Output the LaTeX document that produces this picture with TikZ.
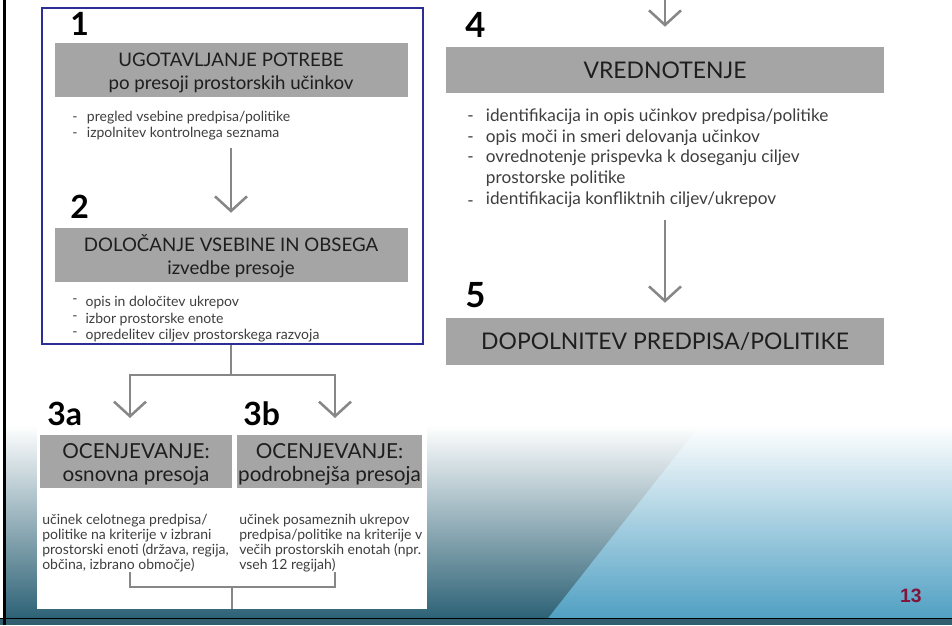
\documentclass[tikz,border=0pt]{standalone}
\usepackage{fontspec}
\setmainfont{Lato}
\newfontfamily\pagefont{Liberation Sans}
\usetikzlibrary{arrows.meta,calc}
\definecolor{boxgray}{RGB}{165,165,165}
\definecolor{txt}{RGB}{30,30,30}
\definecolor{bultxt}{RGB}{62,62,62}
\definecolor{arrgray}{RGB}{135,135,135}
\definecolor{framblue}{RGB}{45,45,150}
\definecolor{tealdark}{RGB}{45,98,118}
\definecolor{teallight}{RGB}{80,160,195}
\definecolor{tealbottom}{RGB}{50,95,112}
\definecolor{pagenum}{RGB}{130,20,60}
\newcommand{\topstrut}{\rule{0pt}{15pt}}
\begin{document}
\begin{tikzpicture}[x=0.75pt,y=-0.75pt,
  graybox/.style={fill=boxgray,inner sep=0pt,align=center,text=txt},
  lefttitle/.style={font=\fontsize{14}{17.25}\selectfont},
  smalltitle/.style={font=\fontsize{15.5}{17.25}\selectfont},
  righttitle/.style={font=\fontsize{17.2}{19}\selectfont},
  numlab/.style={anchor=base west,inner sep=0pt,text=black,font=\fontsize{24}{24}\selectfont\bfseries},
  bigno/.style={numlab,font=\fontsize{26}{26}\selectfont\bfseries},
  bulS/.style={anchor=base west,inner sep=0pt,text=bultxt,font=\fontsize{10.5}{12}\selectfont},
  desc/.style={anchor=base west,inner sep=0pt,text=bultxt,font=\fontsize{10.5}{12}\selectfont},
  bulL/.style={anchor=base west,inner sep=0pt,text=bultxt,font=\fontsize{12.9}{14}\selectfont},
  conn/.style={draw=arrgray,line width=1.9pt},
  arr/.style={conn,-{Straight Barb[length=11pt,width=24pt]}},
]
\useasboundingbox (0,0) rectangle (952,625);
% background
\fill[white] (0,0) rectangle (952,625);
\shade[top color=white,bottom color=teallight] (5,425) rectangle (952,618);
\shade[top color=white,bottom color=tealdark] (5,425) -- (700,425) -- (548,618) -- (5,618) -- cycle;
\fill[tealbottom] (0,618) rectangle (952,625);
\draw[black,line width=0.8pt] (0,618.5) -- (952,618.5);
\fill[black] (3,0) rectangle (5.5,625);
\fill[white] (37,0) rectangle (427,609);
\fill[white] (445,0) rectangle (905,372);

% frame
\node[draw=framblue,line width=1.5pt,minimum width=285.75pt,minimum height=252pt,inner sep=0pt] (frame) at (232.5,176) {};

% left column
\node[numlab] (n1) at (70,35) {1};
\node[graybox,lefttitle,minimum width=264.75pt,minimum height=40.5pt] (b1) at (231,70) {\topstrut UGOTAVLJANJE POTREBE\\po presoji prostorskih učinkov};
\node[bulS] (l11) at (72,121) {\makebox[11pt][l]{-}pregled vsebine predpisa/politike};
\node[bulS] (l12) at (72,137) {\makebox[11pt][l]{-}izpolnitev kontrolnega seznama};

\node[numlab] (n2) at (70,218) {2};
\node[graybox,lefttitle,minimum width=264.75pt,minimum height=40.5pt] (b2) at (231,255) {\topstrut DOLOČANJE VSEBINE IN OBSEGA\\izvedbe presoje};
\node[bulS] (l21) at (72,306) {\makebox[10pt][l]{\raisebox{0.35ex}{-}}opis in določitev ukrepov};
\node[bulS] (l22) at (72,323) {\makebox[10pt][l]{\raisebox{0.35ex}{-}}izbor prostorske enote};
\node[bulS] (l23) at (72,339) {\makebox[10pt][l]{\raisebox{0.35ex}{-}}opredelitev ciljev prostorskega razvoja};

\node[numlab] (n3a) at (47,425) {3a};
\node[numlab] (n3b) at (243,425) {3b};
\node[graybox,smalltitle,minimum width=144pt,minimum height=39.75pt] (b3a) at (136,461.5) {\topstrut OCENJEVANJE:\\osnovna presoja};
\node[graybox,smalltitle,minimum width=138.75pt,minimum height=39.75pt] (b3b) at (329.5,461.5) {\topstrut OCENJEVANJE:\\podrobnejša presoja};
\node[desc] (a1) at (42,524) {učinek celotnega predpisa/};
\node[desc] (a2) at (42,539) {politike na kriterije v izbrani};
\node[desc] (a3) at (42,554) {prostorski enoti (država, regija,};
\node[desc] (a4) at (42,569) {občina, izbrano območje)};
\node[desc] (c1) at (239,524) {učinek posameznih ukrepov};
\node[desc] (c2) at (239,539) {predpisa/politike na kriterije v};
\node[desc] (c3) at (239,554) {večih prostorskih enotah (npr.};
\node[desc] (c4) at (239,569) {vseh 12 regijah)};

% right column
\node[bigno] (n4) at (465,37) {4};
\node[graybox,righttitle,minimum width=328.5pt,minimum height=34.5pt] (b4) at (665,70) {VREDNOTENJE};
\node[bulL] (r1) at (467,121) {\makebox[14pt][l]{-}identifikacija in opis učinkov predpisa/politike};
\node[bulL] (r2) at (467,142) {\makebox[14pt][l]{-}opis moči in smeri delovanja učinkov};
\node[bulL] (r3) at (467,162) {\makebox[14pt][l]{-}ovrednotenje prispevka k doseganju ciljev};
\node[bulL] (r3b) at (467,183) {\makebox[14pt][l]{}prostorske politike};
\node[bulL] (r4) at (467,204) {\makebox[14pt][l]{\raisebox{-0.3ex}{-}}identifikacija konfliktnih ciljev/ukrepov};

\node[bigno] (n5) at (465,307) {5};
\node[graybox,righttitle,minimum width=328.5pt,minimum height=35.25pt] (b5) at (665,341.5) {DOPOLNITEV PREDPISA/POLITIKE};

\node[anchor=base east,inner sep=0pt,text=pagenum,font=\pagefont\fontsize{14.5}{15}\selectfont\bfseries] (pg) at (922,602) {13};

% connectors
\coordinate (s12) at (231,148);
\draw[arr,shorten >=11.25pt] (s12) -- (b2.north);
\coordinate (sp) at (231,375);
\coordinate (tipL) at (130,418);
\coordinate (tipR) at (335,418);
\draw[conn] (frame.south -| sp) -- (sp);
\draw[arr] (sp) -| (tipL);
\draw[arr] (sp) -| (tipR);
\coordinate (mL) at (130,572);
\coordinate (mR) at (335,572);
\coordinate (mC) at (232,587);
\coordinate (mB) at (232,609);
\draw[conn] (mL) |- (mC) -| (mR);
\draw[conn] (mC) -- (mB);
\coordinate (r0) at (665,0);
\draw[arr,shorten >=15pt] (r0) -- (b4.north);
\coordinate (s45) at (665,220);
\draw[arr,shorten >=11.25pt] (s45) -- (b5.north);
\end{tikzpicture}
\end{document}
